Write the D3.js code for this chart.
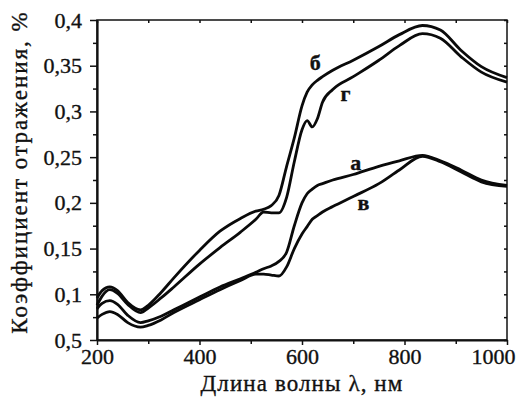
<!DOCTYPE html>
<html>
<head>
<meta charset="utf-8">
<script src="https://cdn.jsdelivr.net/npm/d3@7"></script>
<style>
  html, body { margin: 0; padding: 0; background: #fff; }
  svg { display: block; }
  text { font-family: "Liberation Serif", "DejaVu Serif", serif; fill: #111; stroke: #111; stroke-width: 0.35px; }
</style>
</head>
<body>
<div id="chart"></div>
<script>
// wavelengths, nm
const wavelengths = [200, 210, 225, 240, 260, 285, 300, 325, 350, 400, 440, 480, 510, 525, 540, 555, 570, 585, 600, 610, 620, 630, 640, 660, 700, 750, 790, 835, 870, 910, 950, 1000];

// reflectance series
const seriesA = [0.084, 0.090, 0.093, 0.089, 0.077, 0.069, 0.071, 0.076, 0.083, 0.097, 0.108, 0.117, 0.124, 0.128, 0.131, 0.136, 0.146, 0.175, 0.200, 0.210, 0.215, 0.219, 0.221, 0.225, 0.231, 0.240, 0.246, 0.252, 0.246, 0.236, 0.225, 0.219];
const seriesB = [0.096, 0.104, 0.108, 0.104, 0.091, 0.083, 0.088, 0.102, 0.118, 0.148, 0.169, 0.183, 0.191, 0.193, 0.197, 0.208, 0.240, 0.271, 0.306, 0.321, 0.329, 0.334, 0.338, 0.345, 0.356, 0.371, 0.384, 0.394, 0.389, 0.367, 0.349, 0.337];
const seriesV = [0.074, 0.078, 0.081, 0.078, 0.069, 0.064, 0.066, 0.072, 0.080, 0.094, 0.105, 0.115, 0.122, 0.122, 0.121, 0.120, 0.130, 0.150, 0.166, 0.174, 0.182, 0.186, 0.190, 0.196, 0.207, 0.221, 0.236, 0.251, 0.245, 0.234, 0.223, 0.218];
const seriesG = [0.088, 0.098, 0.105, 0.101, 0.089, 0.080, 0.085, 0.096, 0.108, 0.133, 0.151, 0.168, 0.182, 0.190, 0.189, 0.189, 0.206, 0.245, 0.280, 0.290, 0.283, 0.292, 0.310, 0.324, 0.338, 0.356, 0.372, 0.385, 0.380, 0.360, 0.343, 0.332];

const xTicks = [200, 400, 600, 800, 1000];
const xTickLabels = ['200', '400', '600', '800', '1000'];
const xMinorTicks = [300, 500, 700, 900];
const yTicks = [0.05, 0.1, 0.15, 0.2, 0.25, 0.3, 0.35, 0.4];
const yTickLabels = ['0,5', '0,1', '0,15', '0,2', '0,25', '0,3', '0,35', '0,4'];
const yMinorTicks = [0.075, 0.125, 0.175, 0.225, 0.275, 0.325, 0.375];

// curve letters and where they sit (nm, value)
const curveLabels = [
  { text: 'б', nm: 626, v: 0.353 },
  { text: 'г', nm: 685, v: 0.320 },
  { text: 'а', nm: 705, v: 0.244 },
  { text: 'в', nm: 720, v: 0.200 }
];

const W = 518, H = 397;
const margin = { top: 20, right: 11, bottom: 57, left: 97 };
const width = W - margin.left - margin.right;
const height = H - margin.top - margin.bottom;

const svg = d3.select('#chart')
  .append('svg')
  .attr('width', W)
  .attr('height', H);

const g = svg.append('g')
  .attr('transform', `translate(${margin.left},${margin.top})`);

const x = d3.scaleLinear().domain([200, 1000]).range([0, width]);
const y = d3.scaleLinear().domain([0.05, 0.4]).range([height, 0]);

// frame
g.append('rect')
  .attr('width', width)
  .attr('height', height)
  .attr('fill', 'none')
  .attr('stroke', '#111')
  .attr('stroke-width', 1.5);

// minor ticks + inner ticks on top/right
g.append('g')
  .call(d3.axisLeft(y).tickValues(yMinorTicks).tickSize(4).tickFormat(''))
  .call(a => a.select('.domain').remove());
g.append('g')
  .attr('transform', `translate(0,${height})`)
  .call(d3.axisBottom(x).tickValues(xMinorTicks).tickSize(4).tickFormat(''))
  .call(a => a.select('.domain').remove());
g.append('g')
  .attr('transform', `translate(${width},0)`)
  .call(d3.axisLeft(y).tickValues(yTicks.concat(yMinorTicks)).tickSize(3).tickFormat(''))
  .call(a => a.select('.domain').remove());
g.append('g')
  .call(d3.axisBottom(x).tickValues(xTicks.concat(xMinorTicks)).tickSize(3).tickFormat(''))
  .call(a => a.select('.domain').remove());

// main axes
const yAxis = g.append('g')
  .call(d3.axisLeft(y)
    .tickValues(yTicks)
    .tickFormat((d, i) => yTickLabels[i])
    .tickSize(7)
    .tickSizeOuter(0)
    .tickPadding(8));

const xAxis = g.append('g')
  .attr('transform', `translate(0,${height})`)
  .call(d3.axisBottom(x)
    .tickValues(xTicks)
    .tickFormat((d, i) => xTickLabels[i])
    .tickSize(5)
    .tickSizeOuter(0)
    .tickPadding(3));

[xAxis, yAxis].forEach(a => {
  a.selectAll('.domain').attr('stroke', '#111').attr('stroke-width', 2.2);
  a.selectAll('.tick text')
    .attr('fill', '#111')
    .style('font-family', '"Liberation Serif", serif')
    .style('font-size', '22px');
});
g.selectAll('.tick line').attr('stroke', '#111').attr('stroke-width', 1.5);

// last x label sits flush with the right edge
xAxis.selectAll('.tick text')
  .filter(d => d === 1000)
  .attr('text-anchor', 'end')
  .attr('x', 8);

// curves
const line = d3.line()
  .x((d, i) => x(wavelengths[i]))
  .y(d => y(d))
  .curve(d3.curveMonotoneX);

[seriesA, seriesV, seriesB, seriesG].forEach(s => {
  g.append('path')
    .datum(s)
    .attr('d', line)
    .attr('fill', 'none')
    .attr('stroke', '#0a0a0a')
    .attr('stroke-width', 2.8)
    .attr('stroke-linejoin', 'round');
});

g.selectAll('.curve-label')
  .data(curveLabels)
  .enter()
  .append('text')
  .attr('class', 'curve-label')
  .attr('x', d => x(d.nm))
  .attr('y', d => y(d.v))
  .attr('text-anchor', 'middle')
  .attr('dominant-baseline', 'central')
  .style('font-size', '22px')
  .style('font-weight', 'bold')
  .text(d => d.text);

// axis titles
svg.append('text')
  .attr('x', margin.left + width / 2)
  .attr('y', 391)
  .attr('text-anchor', 'middle')
  .style('font-size', '23px')
  .style('letter-spacing', '1.1px')
  .text('Длина волны λ, нм');

svg.append('text')
  .attr('transform', 'translate(27,172) rotate(-90)')
  .attr('text-anchor', 'middle')
  .style('font-size', '23px')
  .style('letter-spacing', '2px')
  .text('Коэффициент отражения, %');
</script>
</body>
</html>
